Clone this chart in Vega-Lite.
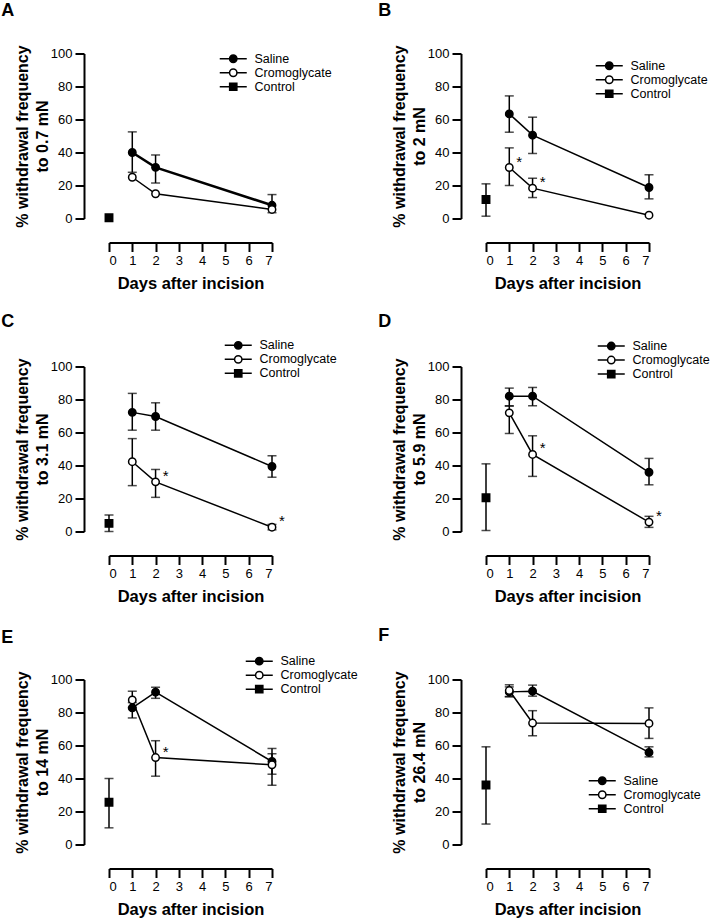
{
  "$schema": "https://vega.github.io/schema/vega-lite/v6.json",
  "background": "white",
  "padding": {"left": 1, "top": 1.5, "right": 0, "bottom": 0},
  "datasets": {
    "pts": [
      {"panel": "A", "group": "Saline", "day": 1, "value": 40, "lo": 28, "hi": 52.5},
      {"panel": "A", "group": "Saline", "day": 2, "value": 31, "lo": 21.5, "hi": 38.5},
      {"panel": "A", "group": "Saline", "day": 7, "value": 8, "lo": 3.5, "hi": 14.5},
      {"panel": "A", "group": "Cromoglycate", "day": 1, "value": 25, "lo": null, "hi": null},
      {"panel": "A", "group": "Cromoglycate", "day": 2, "value": 15, "lo": null, "hi": null},
      {"panel": "A", "group": "Cromoglycate", "day": 7, "value": 5.5, "lo": null, "hi": null},
      {"panel": "A", "group": "Control", "day": 0, "value": 0.5, "lo": null, "hi": null},
      {"panel": "B", "group": "Saline", "day": 1, "value": 63.4, "lo": 52.3, "hi": 74.3},
      {"panel": "B", "group": "Saline", "day": 2, "value": 50.5, "lo": 39.4, "hi": 61.4},
      {"panel": "B", "group": "Saline", "day": 7, "value": 18.8, "lo": 11.9, "hi": 26.5},
      {"panel": "B", "group": "Cromoglycate", "day": 1, "value": 30.9, "lo": 20, "hi": 42.8},
      {"panel": "B", "group": "Cromoglycate", "day": 2, "value": 18.4, "lo": 12.7, "hi": 24.4},
      {"panel": "B", "group": "Cromoglycate", "day": 7, "value": 2, "lo": null, "hi": null},
      {"panel": "B", "group": "Control", "day": 0, "value": 11.5, "lo": 1.4, "hi": 21},
      {"panel": "C", "group": "Saline", "day": 1, "value": 72.2, "lo": 61.4, "hi": 83.7},
      {"panel": "C", "group": "Saline", "day": 2, "value": 69.7, "lo": 61.4, "hi": 78},
      {"panel": "C", "group": "Saline", "day": 7, "value": 39.4, "lo": 32.9, "hi": 45.9},
      {"panel": "C", "group": "Cromoglycate", "day": 1, "value": 42.3, "lo": 27.8, "hi": 56.3},
      {"panel": "C", "group": "Cromoglycate", "day": 2, "value": 30.1, "lo": 20.7, "hi": 37.6},
      {"panel": "C", "group": "Cromoglycate", "day": 7, "value": 2.6, "lo": 1, "hi": 4.3},
      {"panel": "C", "group": "Control", "day": 0, "value": 4.9, "lo": 0, "hi": 10},
      {"panel": "D", "group": "Saline", "day": 1, "value": 82, "lo": 76.2, "hi": 86.9},
      {"panel": "D", "group": "Saline", "day": 2, "value": 82, "lo": 76.2, "hi": 87.3},
      {"panel": "D", "group": "Saline", "day": 7, "value": 35.9, "lo": 28.3, "hi": 44.3},
      {"panel": "D", "group": "Cromoglycate", "day": 1, "value": 71.9, "lo": 59.4, "hi": 76},
      {"panel": "D", "group": "Cromoglycate", "day": 2, "value": 46.7, "lo": 33.4, "hi": 58},
      {"panel": "D", "group": "Cromoglycate", "day": 7, "value": 5.7, "lo": 2.5, "hi": 9.2},
      {"panel": "D", "group": "Control", "day": 0, "value": 20.5, "lo": 0.6, "hi": 41},
      {"panel": "E", "group": "Saline", "day": 1, "value": 82.8, "lo": 76.7, "hi": 86},
      {"panel": "E", "group": "Saline", "day": 2, "value": 92.3, "lo": 88.6, "hi": 95.3},
      {"panel": "E", "group": "Saline", "day": 7, "value": 50.3, "lo": 42.6, "hi": 58.2},
      {"panel": "E", "group": "Cromoglycate", "day": 1, "value": 87.6, "lo": 83, "hi": 92.9},
      {"panel": "E", "group": "Cromoglycate", "day": 2, "value": 52.7, "lo": 41.4, "hi": 62.9},
      {"panel": "E", "group": "Cromoglycate", "day": 7, "value": 48.3, "lo": 35.9, "hi": 55},
      {"panel": "E", "group": "Control", "day": 0, "value": 25.6, "lo": 10.1, "hi": 40},
      {"panel": "F", "group": "Saline", "day": 1, "value": 92.5, "lo": 89.5, "hi": 95.5},
      {"panel": "F", "group": "Saline", "day": 2, "value": 92.9, "lo": 89.9, "hi": 96.6},
      {"panel": "F", "group": "Saline", "day": 7, "value": 55.8, "lo": 53.1, "hi": 59.2},
      {"panel": "F", "group": "Cromoglycate", "day": 1, "value": 93.3, "lo": 89.7, "hi": 96.8},
      {"panel": "F", "group": "Cromoglycate", "day": 2, "value": 73.6, "lo": 65.9, "hi": 81.1},
      {"panel": "F", "group": "Cromoglycate", "day": 7, "value": 73.4, "lo": 64.3, "hi": 82.8},
      {"panel": "F", "group": "Control", "day": 0, "value": 36.1, "lo": 12.4, "hi": 59.2}
    ],
    "stars": [
      {"panel": "B", "day": 1, "value": 30.9},
      {"panel": "B", "day": 2, "value": 18.4},
      {"panel": "C", "day": 2, "value": 30.1},
      {"panel": "C", "day": 7, "value": 2.6},
      {"panel": "D", "day": 2, "value": 46.7},
      {"panel": "D", "day": 7, "value": 5.7},
      {"panel": "E", "day": 2, "value": 52.7}
    ]
  },
  "columns": 2,
  "spacing": {"row": 148, "column": 214},
  "bounds": "flush",
  "align": "all",
  "resolve": {
    "scale": {"shape": "independent", "fill": "independent"},
    "legend": {"shape": "independent", "fill": "independent"}
  },
  "concat": [
    {
      "title": {"text": "A", "offset": 25.3},
      "width": 163, "height": 165,
      "encoding": {
        "x": {"field": "day", "type": "quantitative", "scale": {"domain": [0, 7], "nice": false, "zero": false}, "axis": {"values": [0,1,2,3,4,5,6,7], "format": "d", "offset": 24, "title": "Days after incision"}},
        "y": {"field": "value", "type": "quantitative", "scale": {"domain": [0, 100], "nice": false}, "axis": {"values": [0,20,40,60,80,100], "offset": 25, "title": ["% withdrawal frequency", "to 0.7 mN"]}}
      },
      "layer": [
        {"data": {"name": "pts"}, "transform": [{"filter": "datum.panel == 'A' && datum.group != 'Control'"}],
         "mark": {"type": "line", "color": "black"},
         "encoding": {"detail": {"field": "group"}, "strokeWidth": {"condition": {"test": "datum.group == 'Saline'", "value": 2.5}, "value": 1.5}}},
        {"data": {"name": "pts"}, "transform": [{"filter": "datum.panel == 'A' && datum.lo != null"}],
         "mark": {"type": "errorbar", "ticks": true, "size": 9, "thickness": 1.5, "color": "black"},
         "encoding": {"y": {"field": "lo", "type": "quantitative", "scale": {"domain": [0, 100], "nice": false}, "axis": {"values": [0,20,40,60,80,100], "offset": 25, "title": ["% withdrawal frequency", "to 0.7 mN"]}}, "y2": {"field": "hi"}}},
        {"data": {"name": "pts"}, "transform": [{"filter": "datum.panel == 'A'"}],
         "mark": {"type": "point", "size": 55, "opacity": 1, "stroke": "black", "strokeWidth": 1.5},
         "encoding": {"shape": {"condition": {"test": "datum.group == 'Control'", "value": "square"}, "value": "circle"}, "fill": {"condition": {"test": "datum.group == 'Cromoglycate'", "value": "white"}, "value": "black"}}},
        {"data": {"name": "pts"}, "transform": [{"filter": "datum.panel == 'none'"}],
         "mark": {"type": "point", "opacity": 1, "stroke": "black", "strokeWidth": 1.5},
         "encoding": {
           "shape": {"field": "group", "type": "nominal", "scale": {"domain": ["Saline", "Cromoglycate", "Control"], "range": ["M-3,0L-0.82,0M0.82,0L3,0M-0.82,0A0.82,0.82,0,1,1,0.82,0A0.82,0.82,0,1,1,-0.82,0Z", "M-3,0L-0.82,0M0.82,0L3,0M-0.82,0A0.82,0.82,0,1,1,0.82,0A0.82,0.82,0,1,1,-0.82,0Z", "M-3,0L-0.8,0M0.8,0L3,0M-0.8,-0.8L0.8,-0.8L0.8,0.8L-0.8,0.8Z"]}, "legend": {"orient": "none", "title": null, "legendX": 118, "legendY": -1, "encode": {"symbols": {"update": {"stroke": {"value": "black"}, "strokeWidth": {"value": 1.5}}}}}},
           "fill": {"field": "group", "type": "nominal", "scale": {"domain": ["Saline", "Cromoglycate", "Control"], "range": ["black", "white", "black"]}, "legend": {"orient": "none", "title": null, "legendX": 118, "legendY": -1, "encode": {"symbols": {"update": {"stroke": {"value": "black"}, "strokeWidth": {"value": 1.5}}}}}}
         }}
      ]
    },
    {
      "title": {"text": "B", "offset": 25.3},
      "width": 163, "height": 165,
      "encoding": {
        "x": {"field": "day", "type": "quantitative", "scale": {"domain": [0, 7], "nice": false, "zero": false}, "axis": {"values": [0,1,2,3,4,5,6,7], "format": "d", "offset": 24, "title": "Days after incision"}},
        "y": {"field": "value", "type": "quantitative", "scale": {"domain": [0, 100], "nice": false}, "axis": {"values": [0,20,40,60,80,100], "offset": 25, "title": ["% withdrawal frequency", "to 2 mN"]}}
      },
      "layer": [
        {"data": {"name": "pts"}, "transform": [{"filter": "datum.panel == 'B' && datum.group != 'Control'"}],
         "mark": {"type": "line", "color": "black", "strokeWidth": 1.5},
         "encoding": {"detail": {"field": "group"}}},
        {"data": {"name": "pts"}, "transform": [{"filter": "datum.panel == 'B' && datum.lo != null"}],
         "mark": {"type": "errorbar", "ticks": true, "size": 9, "thickness": 1.5, "color": "black"},
         "encoding": {"y": {"field": "lo", "type": "quantitative", "scale": {"domain": [0, 100], "nice": false}, "axis": {"values": [0,20,40,60,80,100], "offset": 25, "title": ["% withdrawal frequency", "to 2 mN"]}}, "y2": {"field": "hi"}}},
        {"data": {"name": "pts"}, "transform": [{"filter": "datum.panel == 'B'"}],
         "mark": {"type": "point", "size": 55, "opacity": 1, "stroke": "black", "strokeWidth": 1.5},
         "encoding": {"shape": {"condition": {"test": "datum.group == 'Control'", "value": "square"}, "value": "circle"}, "fill": {"condition": {"test": "datum.group == 'Cromoglycate'", "value": "white"}, "value": "black"}}},
        {"data": {"name": "stars"}, "transform": [{"filter": "datum.panel == 'B'"}],
         "mark": {"type": "text", "text": "*", "dx": 10, "dy": -1, "fontSize": 15, "font": "Liberation Sans", "baseline": "alphabetic", "align": "center", "color": "black"}},
        {"data": {"name": "pts"}, "transform": [{"filter": "datum.panel == 'none'"}],
         "mark": {"type": "point", "opacity": 1, "stroke": "black", "strokeWidth": 1.5},
         "encoding": {
           "shape": {"field": "group", "type": "nominal", "scale": {"domain": ["Saline", "Cromoglycate", "Control"], "range": ["M-3,0L-0.82,0M0.82,0L3,0M-0.82,0A0.82,0.82,0,1,1,0.82,0A0.82,0.82,0,1,1,-0.82,0Z", "M-3,0L-0.82,0M0.82,0L3,0M-0.82,0A0.82,0.82,0,1,1,0.82,0A0.82,0.82,0,1,1,-0.82,0Z", "M-3,0L-0.8,0M0.8,0L3,0M-0.8,-0.8L0.8,-0.8L0.8,0.8L-0.8,0.8Z"]}, "legend": {"orient": "none", "title": null, "legendX": 117, "legendY": 6, "encode": {"symbols": {"update": {"stroke": {"value": "black"}, "strokeWidth": {"value": 1.5}}}}}},
           "fill": {"field": "group", "type": "nominal", "scale": {"domain": ["Saline", "Cromoglycate", "Control"], "range": ["black", "white", "black"]}, "legend": {"orient": "none", "title": null, "legendX": 117, "legendY": 6, "encode": {"symbols": {"update": {"stroke": {"value": "black"}, "strokeWidth": {"value": 1.5}}}}}}
         }}
      ]
    },
    {
      "title": {"text": "C", "offset": 8.3},
      "width": 163, "height": 165,
      "encoding": {
        "x": {"field": "day", "type": "quantitative", "scale": {"domain": [0, 7], "nice": false, "zero": false}, "axis": {"values": [0,1,2,3,4,5,6,7], "format": "d", "offset": 24, "title": "Days after incision"}},
        "y": {"field": "value", "type": "quantitative", "scale": {"domain": [0, 100], "nice": false}, "axis": {"values": [0,20,40,60,80,100], "offset": 25, "title": ["% withdrawal frequency", "to 3.1 mN"]}}
      },
      "layer": [
        {"data": {"name": "pts"}, "transform": [{"filter": "datum.panel == 'C' && datum.group != 'Control'"}],
         "mark": {"type": "line", "color": "black", "strokeWidth": 1.5},
         "encoding": {"detail": {"field": "group"}}},
        {"data": {"name": "pts"}, "transform": [{"filter": "datum.panel == 'C' && datum.lo != null"}],
         "mark": {"type": "errorbar", "ticks": true, "size": 9, "thickness": 1.5, "color": "black"},
         "encoding": {"y": {"field": "lo", "type": "quantitative", "scale": {"domain": [0, 100], "nice": false}, "axis": {"values": [0,20,40,60,80,100], "offset": 25, "title": ["% withdrawal frequency", "to 3.1 mN"]}}, "y2": {"field": "hi"}}},
        {"data": {"name": "pts"}, "transform": [{"filter": "datum.panel == 'C'"}],
         "mark": {"type": "point", "size": 55, "opacity": 1, "stroke": "black", "strokeWidth": 1.5},
         "encoding": {"shape": {"condition": {"test": "datum.group == 'Control'", "value": "square"}, "value": "circle"}, "fill": {"condition": {"test": "datum.group == 'Cromoglycate'", "value": "white"}, "value": "black"}}},
        {"data": {"name": "stars"}, "transform": [{"filter": "datum.panel == 'C'"}],
         "mark": {"type": "text", "text": "*", "dx": 10, "dy": -1, "fontSize": 15, "font": "Liberation Sans", "baseline": "alphabetic", "align": "center", "color": "black"}},
        {"data": {"name": "pts"}, "transform": [{"filter": "datum.panel == 'none'"}],
         "mark": {"type": "point", "opacity": 1, "stroke": "black", "strokeWidth": 1.5},
         "encoding": {
           "shape": {"field": "group", "type": "nominal", "scale": {"domain": ["Saline", "Cromoglycate", "Control"], "range": ["M-3,0L-0.82,0M0.82,0L3,0M-0.82,0A0.82,0.82,0,1,1,0.82,0A0.82,0.82,0,1,1,-0.82,0Z", "M-3,0L-0.82,0M0.82,0L3,0M-0.82,0A0.82,0.82,0,1,1,0.82,0A0.82,0.82,0,1,1,-0.82,0Z", "M-3,0L-0.8,0M0.8,0L3,0M-0.8,-0.8L0.8,-0.8L0.8,0.8L-0.8,0.8Z"]}, "legend": {"orient": "none", "title": null, "legendX": 123, "legendY": -27.4, "encode": {"symbols": {"update": {"stroke": {"value": "black"}, "strokeWidth": {"value": 1.5}}}}}},
           "fill": {"field": "group", "type": "nominal", "scale": {"domain": ["Saline", "Cromoglycate", "Control"], "range": ["black", "white", "black"]}, "legend": {"orient": "none", "title": null, "legendX": 123, "legendY": -27.4, "encode": {"symbols": {"update": {"stroke": {"value": "black"}, "strokeWidth": {"value": 1.5}}}}}}
         }}
      ]
    },
    {
      "title": {"text": "D", "offset": 9.3},
      "width": 163, "height": 165,
      "encoding": {
        "x": {"field": "day", "type": "quantitative", "scale": {"domain": [0, 7], "nice": false, "zero": false}, "axis": {"values": [0,1,2,3,4,5,6,7], "format": "d", "offset": 24, "title": "Days after incision"}},
        "y": {"field": "value", "type": "quantitative", "scale": {"domain": [0, 100], "nice": false}, "axis": {"values": [0,20,40,60,80,100], "offset": 25, "title": ["% withdrawal frequency", "to 5.9 mN"]}}
      },
      "layer": [
        {"data": {"name": "pts"}, "transform": [{"filter": "datum.panel == 'D' && datum.group != 'Control'"}],
         "mark": {"type": "line", "color": "black", "strokeWidth": 1.5},
         "encoding": {"detail": {"field": "group"}}},
        {"data": {"name": "pts"}, "transform": [{"filter": "datum.panel == 'D' && datum.lo != null"}],
         "mark": {"type": "errorbar", "ticks": true, "size": 9, "thickness": 1.5, "color": "black"},
         "encoding": {"y": {"field": "lo", "type": "quantitative", "scale": {"domain": [0, 100], "nice": false}, "axis": {"values": [0,20,40,60,80,100], "offset": 25, "title": ["% withdrawal frequency", "to 5.9 mN"]}}, "y2": {"field": "hi"}}},
        {"data": {"name": "pts"}, "transform": [{"filter": "datum.panel == 'D'"}],
         "mark": {"type": "point", "size": 55, "opacity": 1, "stroke": "black", "strokeWidth": 1.5},
         "encoding": {"shape": {"condition": {"test": "datum.group == 'Control'", "value": "square"}, "value": "circle"}, "fill": {"condition": {"test": "datum.group == 'Cromoglycate'", "value": "white"}, "value": "black"}}},
        {"data": {"name": "stars"}, "transform": [{"filter": "datum.panel == 'D'"}],
         "mark": {"type": "text", "text": "*", "dx": 10, "dy": -1, "fontSize": 15, "font": "Liberation Sans", "baseline": "alphabetic", "align": "center", "color": "black"}},
        {"data": {"name": "pts"}, "transform": [{"filter": "datum.panel == 'none'"}],
         "mark": {"type": "point", "opacity": 1, "stroke": "black", "strokeWidth": 1.5},
         "encoding": {
           "shape": {"field": "group", "type": "nominal", "scale": {"domain": ["Saline", "Cromoglycate", "Control"], "range": ["M-3,0L-0.82,0M0.82,0L3,0M-0.82,0A0.82,0.82,0,1,1,0.82,0A0.82,0.82,0,1,1,-0.82,0Z", "M-3,0L-0.82,0M0.82,0L3,0M-0.82,0A0.82,0.82,0,1,1,0.82,0A0.82,0.82,0,1,1,-0.82,0Z", "M-3,0L-0.8,0M0.8,0L3,0M-0.8,-0.8L0.8,-0.8L0.8,0.8L-0.8,0.8Z"]}, "legend": {"orient": "none", "title": null, "legendX": 119, "legendY": -26.7, "encode": {"symbols": {"update": {"stroke": {"value": "black"}, "strokeWidth": {"value": 1.5}}}}}},
           "fill": {"field": "group", "type": "nominal", "scale": {"domain": ["Saline", "Cromoglycate", "Control"], "range": ["black", "white", "black"]}, "legend": {"orient": "none", "title": null, "legendX": 119, "legendY": -26.7, "encode": {"symbols": {"update": {"stroke": {"value": "black"}, "strokeWidth": {"value": 1.5}}}}}}
         }}
      ]
    },
    {
      "title": {"text": "E", "offset": 8},
      "width": 163, "height": 165,
      "encoding": {
        "x": {"field": "day", "type": "quantitative", "scale": {"domain": [0, 7], "nice": false, "zero": false}, "axis": {"values": [0,1,2,3,4,5,6,7], "format": "d", "offset": 24, "title": "Days after incision"}},
        "y": {"field": "value", "type": "quantitative", "scale": {"domain": [0, 100], "nice": false}, "axis": {"values": [0,20,40,60,80,100], "offset": 25, "title": ["% withdrawal frequency", "to 14 mN"]}}
      },
      "layer": [
        {"data": {"name": "pts"}, "transform": [{"filter": "datum.panel == 'E' && datum.group != 'Control'"}],
         "mark": {"type": "line", "color": "black", "strokeWidth": 1.5},
         "encoding": {"detail": {"field": "group"}}},
        {"data": {"name": "pts"}, "transform": [{"filter": "datum.panel == 'E' && datum.lo != null"}],
         "mark": {"type": "errorbar", "ticks": true, "size": 9, "thickness": 1.5, "color": "black"},
         "encoding": {"y": {"field": "lo", "type": "quantitative", "scale": {"domain": [0, 100], "nice": false}, "axis": {"values": [0,20,40,60,80,100], "offset": 25, "title": ["% withdrawal frequency", "to 14 mN"]}}, "y2": {"field": "hi"}}},
        {"data": {"name": "pts"}, "transform": [{"filter": "datum.panel == 'E'"}],
         "mark": {"type": "point", "size": 55, "opacity": 1, "stroke": "black", "strokeWidth": 1.5},
         "encoding": {"shape": {"condition": {"test": "datum.group == 'Control'", "value": "square"}, "value": "circle"}, "fill": {"condition": {"test": "datum.group == 'Cromoglycate'", "value": "white"}, "value": "black"}}},
        {"data": {"name": "stars"}, "transform": [{"filter": "datum.panel == 'E'"}],
         "mark": {"type": "text", "text": "*", "dx": 10, "dy": -1, "fontSize": 15, "font": "Liberation Sans", "baseline": "alphabetic", "align": "center", "color": "black"}},
        {"data": {"name": "pts"}, "transform": [{"filter": "datum.panel == 'none'"}],
         "mark": {"type": "point", "opacity": 1, "stroke": "black", "strokeWidth": 1.5},
         "encoding": {
           "shape": {"field": "group", "type": "nominal", "scale": {"domain": ["Saline", "Cromoglycate", "Control"], "range": ["M-3,0L-0.82,0M0.82,0L3,0M-0.82,0A0.82,0.82,0,1,1,0.82,0A0.82,0.82,0,1,1,-0.82,0Z", "M-3,0L-0.82,0M0.82,0L3,0M-0.82,0A0.82,0.82,0,1,1,0.82,0A0.82,0.82,0,1,1,-0.82,0Z", "M-3,0L-0.8,0M0.8,0L3,0M-0.8,-0.8L0.8,-0.8L0.8,0.8L-0.8,0.8Z"]}, "legend": {"orient": "none", "title": null, "legendX": 144, "legendY": -24.6, "encode": {"symbols": {"update": {"stroke": {"value": "black"}, "strokeWidth": {"value": 1.5}}}}}},
           "fill": {"field": "group", "type": "nominal", "scale": {"domain": ["Saline", "Cromoglycate", "Control"], "range": ["black", "white", "black"]}, "legend": {"orient": "none", "title": null, "legendX": 144, "legendY": -24.6, "encode": {"symbols": {"update": {"stroke": {"value": "black"}, "strokeWidth": {"value": 1.5}}}}}}
         }}
      ]
    },
    {
      "title": {"text": "F", "offset": 26},
      "width": 163, "height": 165,
      "encoding": {
        "x": {"field": "day", "type": "quantitative", "scale": {"domain": [0, 7], "nice": false, "zero": false}, "axis": {"values": [0,1,2,3,4,5,6,7], "format": "d", "offset": 24, "title": "Days after incision"}},
        "y": {"field": "value", "type": "quantitative", "scale": {"domain": [0, 100], "nice": false}, "axis": {"values": [0,20,40,60,80,100], "offset": 25, "title": ["% withdrawal frequency", "to 26.4 mN"]}}
      },
      "layer": [
        {"data": {"name": "pts"}, "transform": [{"filter": "datum.panel == 'F' && datum.group != 'Control'"}],
         "mark": {"type": "line", "color": "black", "strokeWidth": 1.5},
         "encoding": {"detail": {"field": "group"}}},
        {"data": {"name": "pts"}, "transform": [{"filter": "datum.panel == 'F' && datum.lo != null"}],
         "mark": {"type": "errorbar", "ticks": true, "size": 9, "thickness": 1.5, "color": "black"},
         "encoding": {"y": {"field": "lo", "type": "quantitative", "scale": {"domain": [0, 100], "nice": false}, "axis": {"values": [0,20,40,60,80,100], "offset": 25, "title": ["% withdrawal frequency", "to 26.4 mN"]}}, "y2": {"field": "hi"}}},
        {"data": {"name": "pts"}, "transform": [{"filter": "datum.panel == 'F'"}],
         "mark": {"type": "point", "size": 55, "opacity": 1, "stroke": "black", "strokeWidth": 1.5},
         "encoding": {"shape": {"condition": {"test": "datum.group == 'Control'", "value": "square"}, "value": "circle"}, "fill": {"condition": {"test": "datum.group == 'Cromoglycate'", "value": "white"}, "value": "black"}}},
        {"data": {"name": "pts"}, "transform": [{"filter": "datum.panel == 'none'"}],
         "mark": {"type": "point", "opacity": 1, "stroke": "black", "strokeWidth": 1.5},
         "encoding": {
           "shape": {"field": "group", "type": "nominal", "scale": {"domain": ["Saline", "Cromoglycate", "Control"], "range": ["M-3,0L-0.82,0M0.82,0L3,0M-0.82,0A0.82,0.82,0,1,1,0.82,0A0.82,0.82,0,1,1,-0.82,0Z", "M-3,0L-0.82,0M0.82,0L3,0M-0.82,0A0.82,0.82,0,1,1,0.82,0A0.82,0.82,0,1,1,-0.82,0Z", "M-3,0L-0.8,0M0.8,0L3,0M-0.8,-0.8L0.8,-0.8L0.8,0.8L-0.8,0.8Z"]}, "legend": {"orient": "none", "title": null, "legendX": 110, "legendY": 95, "encode": {"symbols": {"update": {"stroke": {"value": "black"}, "strokeWidth": {"value": 1.5}}}}}},
           "fill": {"field": "group", "type": "nominal", "scale": {"domain": ["Saline", "Cromoglycate", "Control"], "range": ["black", "white", "black"]}, "legend": {"orient": "none", "title": null, "legendX": 110, "legendY": 95, "encode": {"symbols": {"update": {"stroke": {"value": "black"}, "strokeWidth": {"value": 1.5}}}}}}
         }}
      ]
    }
  ],
  "config": {
    "view": {"stroke": null},
    "axis": {"domainColor": "black", "domainWidth": 2, "tickColor": "black", "tickWidth": 2, "tickSize": 9, "labelColor": "black", "labelFont": "Liberation Sans", "labelFontSize": 13, "labelPadding": 3, "titleFont": "Liberation Sans", "titleFontSize": 16.5, "titleFontWeight": "bold", "titleColor": "black", "titleLineHeight": 20, "grid": false},
    "axisY": {"titlePadding": 0, "titleFontSize": 16},
    "axisX": {"titlePadding": 8},
    "legend": {"labelFont": "Liberation Sans", "labelFontSize": 12.5, "labelColor": "black", "symbolSize": 81, "symbolStrokeWidth": 1.5, "symbolStrokeColor": "black", "symbolOpacity": 1, "rowPadding": 0, "padding": 0, "labelOffset": 15},
    "title": {"anchor": "start", "frame": "bounds", "fontSize": 18, "fontWeight": "bold", "font": "Liberation Sans", "color": "black", "dx": -13}
  }
}
